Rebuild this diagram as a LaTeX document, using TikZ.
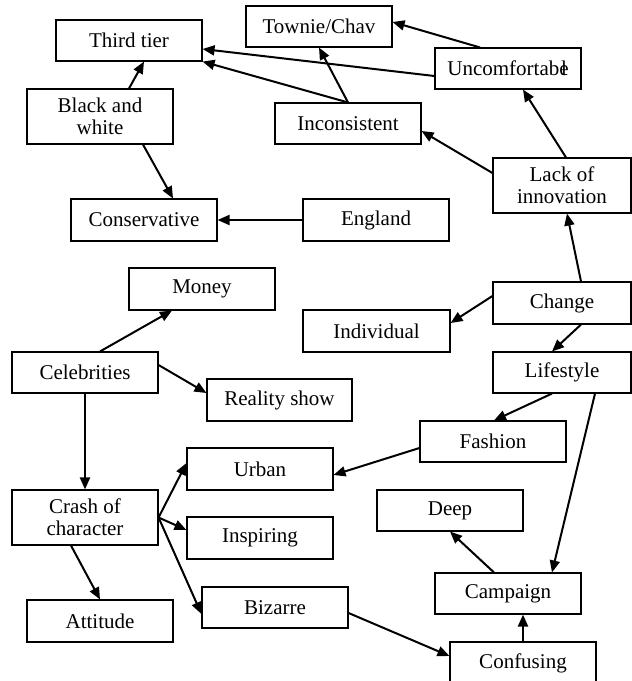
\documentclass[tikz,border=0pt]{standalone}
\usepackage{fontspec}
\setmainfont{Liberation Serif}
\usetikzlibrary{arrows.meta}
\tikzset{
  box/.style={draw=black, line width=1.1pt, inner sep=0pt, align=center,
    font=\fontsize{21}{22}\selectfont},
  arr/.style={draw=black, line width=2pt, -{Triangle[length=12pt,width=10pt]}}
}
\newcommand{\bx}[6]{%
  \node[box, minimum width={(#4-#2)*1pt}, minimum height={(#5-#3)*1pt}]
    (#1) at ({(#2+#4)/2},{(#3+#5)/2}) {#6};}
\begin{document}
\begin{tikzpicture}[x=1pt,y=-1pt]
\useasboundingbox[fill=white] (0,0) rectangle (632,681);
\bx{third}{56}{20}{202}{61}{Third tier}
\bx{townie}{246}{6}{392}{47}{Townie/Chav}
\bx{uncomf}{435}{48}{581}{89}{Uncomfortab\makebox[0pt][l]{\hspace{0.08em}l}e}
\bx{bw}{27}{89}{173}{144}{Black and\\white}
\bx{incons}{275}{103}{421}{144}{Inconsistent}
\bx{lack}{493}{158}{631}{213}{Lack of\\innovation}
\bx{cons}{71}{199}{217}{241}{Conservative}
\bx{england}{303}{199}{449}{241}{England}
\bx{money}{129}{268}{275}{310}{Money}
\bx{change}{493}{282}{631}{324}{Change}
\bx{individual}{303}{310}{450}{352}{Individual}
\bx{celeb}{12}{352}{158}{393}{Celebrities}
\bx{lifestyle}{493}{352}{631}{393}{Lifestyle}
\bx{reality}{207}{379}{352}{421}{Reality show}
\bx{fashion}{420}{421}{566}{462}{Fashion}
\bx{urban}{187}{448}{333}{490}{Urban}
\bx{crash}{12}{490}{158}{545}{Crash of\\character}
\bx{deep}{377}{490}{523}{531}{Deep}
\bx{inspiring}{187}{517}{333}{559}{Inspiring}
\bx{campaign}{435}{573}{581}{614}{Campaign}
\bx{bizarre}{202}{587}{348}{628}{Bizarre}
\bx{attitude}{27}{600}{173}{642}{Attitude}
\bx{confusing}{450}{642}{596}{684}{Confusing}

\draw[arr] ([xshift=-28pt]uncomf.north) -- ([yshift=4.5pt]townie.east);
\draw[arr] ([yshift=-7.5pt]uncomf.west) -- ([yshift=-8.5pt]third.east);
\draw[arr] (incons.north) -- (third.south east);
\draw[arr] (incons.north) -- (townie.south);
\draw[arr] ([xshift=29pt]bw.north) -- ([xshift=15pt]third.south);
\draw[arr] ([xshift=43pt]bw.south) -- ([xshift=29pt]cons.north);
\draw[arr] (england.west) -- (cons.east);
\draw[arr] ([yshift=12.5pt]lack.west) -- ([yshift=-7.5pt]incons.east);
\draw[arr] ([xshift=4pt]lack.north) -- ([xshift=15pt]uncomf.south);
\draw[arr] ([xshift=19pt]change.north) -- ([xshift=5pt]lack.south);
\draw[arr] ([yshift=7pt]change.west) -- ([yshift=8pt]individual.east);
\draw[arr] ([xshift=19pt]change.south) -- ([xshift=-10pt]lifestyle.north);
\draw[arr] ([xshift=-10pt]lifestyle.south) -- ([xshift=1pt]fashion.north);
\draw[arr] ([xshift=33pt]lifestyle.south) -- ([xshift=44pt]campaign.north);
\draw[arr] ([yshift=-6.5pt]fashion.west) -- ([yshift=-6pt]urban.east);
\draw[arr] ([xshift=15pt]celeb.north) -- ([xshift=-30pt]money.south);
\draw[arr] ([yshift=7.5pt]celeb.east) -- ([yshift=7pt]reality.west);
\draw[arr] (celeb.south) -- (crash.north);
\draw[arr] (crash.east) -- ([yshift=6pt]urban.west);
\draw[arr] (crash.east) -- ([yshift=8pt]inspiring.west);
\draw[arr] (crash.east) -- ([yshift=-6.5pt]bizarre.west);
\draw[arr] ([xshift=-14pt]crash.south) -- (attitude.north);
\draw[arr] ([yshift=-5.5pt]bizarre.east) -- ([yshift=7pt]confusing.west);
\draw[arr] (confusing.north) -- ([xshift=15pt]campaign.south);
\draw[arr] ([xshift=-14pt]campaign.north) -- (deep.south);
\end{tikzpicture}
\end{document}
